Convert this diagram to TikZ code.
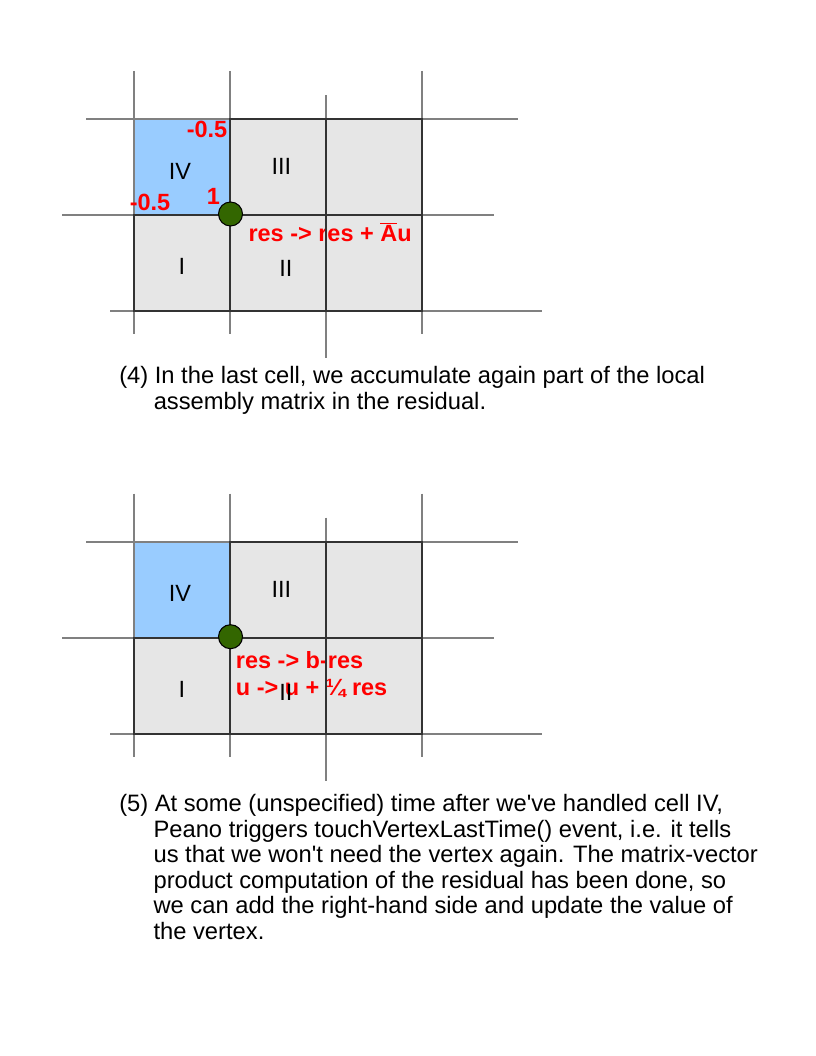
\documentclass[tikz,border=0pt]{standalone}
\usepackage{fontspec}
\setmainfont{Liberation Sans}
\definecolor{cellgray}{HTML}{E6E6E6}
\definecolor{cellblue}{HTML}{99CCFF}
\definecolor{gridgray}{HTML}{808080}
\definecolor{darkline}{HTML}{333333}
\definecolor{vgreen}{HTML}{336600}
\definecolor{redtext}{HTML}{FF0000}
\newcommand{\gridfills}{%
  \fill[cellblue] (134,119) rectangle (230,215);
  \fill[cellgray] (230,119) rectangle (422,215);
  \fill[cellgray] (134,215) rectangle (422,311);
}
\newcommand{\gridlines}{%
  \draw[gridline] (134,71) -- (134,334);
  \draw[gridline] (230,71) -- (230,334);
  \draw[gridline] (326,95) -- (326,358);
  \draw[gridline] (422,71) -- (422,334);
  \draw[gridline] (86,119) -- (518,119);
  \draw[gridline] (62,215) -- (494,215);
  \draw[gridline] (110,311) -- (542,311);
  \draw[celledge] (230,119) rectangle (422,311);
  \draw[celledge] (134,215) rectangle (230,311);
  \draw[celledge] (326,119) -- (326,311);
  \draw[celledge] (230,215) -- (422,215);
}
\begin{document}
\begin{tikzpicture}[x=0.75pt,y=-0.75pt,
  gridline/.style={draw=gridgray, line width=1.3pt},
  celledge/.style={draw=darkline, line width=1.5pt},
  vertexdot/.style={circle, fill=vgreen, draw=black, line width=0.8pt, minimum size=18pt, inner sep=0pt},
  numeral/.style={font=\fontsize{17.6}{19}\selectfont, anchor=base, inner sep=0pt},
  redlabel/.style={font=\fontsize{17.6}{19}\selectfont\bfseries, text=redtext, anchor=base west, inner sep=0pt},
  captionline/.style={font=\fontsize{17.8}{19}\selectfont, anchor=base west, inner sep=0pt}]
\useasboundingbox (0,0) rectangle (816,1056);
\fill[white] (0,0) rectangle (816,1056);

% ---------- diagram (4) ----------
\begin{scope}
  \gridfills
  \node[redlabel] (rA) at (248.3,241) {res -> res + $\overline{\mbox{A}}$u};
  \gridlines
  \node[numeral] (n4IV) at (180,179) {IV};
  \node[numeral] (n4III) at (281.3,174.3) {III};
  \node[numeral] (n4I) at (182,274.3) {I};
  \node[numeral] (n4II) at (285.8,276.7) {II};
  \node[redlabel] (wTop) at (186.5,137.7) {-0.5};
  \node[redlabel] (wLeft) at (129.5,210.7) {-0.5};
  \node[redlabel] (wOne) at (206.5,204) {1};
  \node[vertexdot] (v4) at (230.5,214) {};
\end{scope}

\node[captionline] (c4a) at (119,383.3) {(4) In the last cell, we accumulate again part of the local};
\node[captionline] (c4b) at (153.5,409.3) {assembly matrix in the residual.};

% ---------- diagram (5) ----------
\begin{scope}[shift={(0,422.7)}]
  \gridfills
  \node[redlabel] (rB) at (235.7,245.3) {res -> b-res};
  \node[redlabel] (rC) at (235.7,272.3) {u -> u + ¼ res};
  \gridlines
  \node[numeral] (n5IV) at (180,179) {IV};
  \node[numeral] (n5III) at (281.3,174.6) {III};
  \node[numeral] (n5I) at (182,274.6) {I};
  \node[numeral] (n5II) at (285.8,277.3) {II};
  \node[vertexdot] (v5) at (230.5,214) {};
\end{scope}

\node[captionline] (c5a) at (119,811.7) {(5) At some (unspecified) time after we\textquotesingle ve handled cell IV,};
\node[captionline] (c5b) at (153.3,837.2) {Peano triggers touchVertexLastTime() event, i.e. it tells};
\node[captionline] (c5c) at (153.3,862.7) {us that we won\textquotesingle t need the vertex again. The matrix-vector};
\node[captionline] (c5d) at (153.3,888.2) {product computation of the residual has been done, so};
\node[captionline] (c5e) at (153.3,913.7) {we can add the right-hand side and update the value of};
\node[captionline] (c5f) at (153.3,939.2) {the vertex.};
\end{tikzpicture}
\end{document}
